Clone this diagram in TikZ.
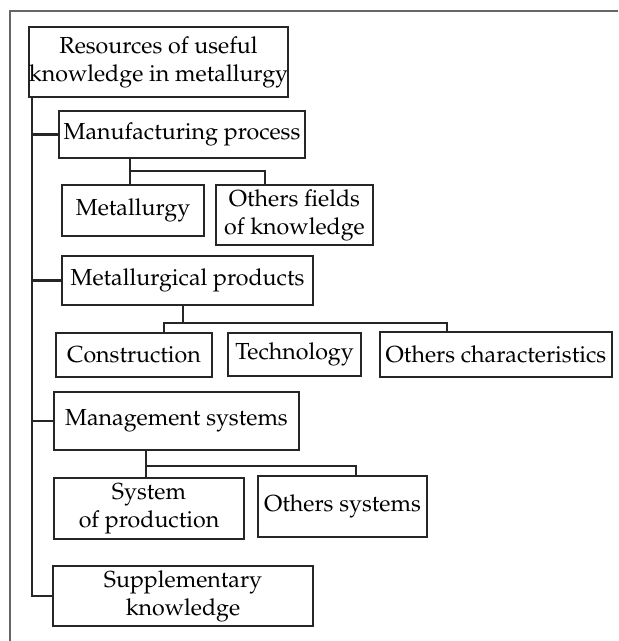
\documentclass[tikz,border=0pt]{standalone}
\usepackage[T1]{fontenc}
\usepackage{mathpazo}
\tikzset{
  kbox/.style={draw=black!85, line width=0.95pt, inner sep=0pt, align=center,
    font=\fontsize{11.6}{14}\selectfont},
  link/.style={draw=black!85, line width=1.1pt}
}
\begin{document}
\begin{tikzpicture}[x=0.5pt,y=-0.5pt]
    \useasboundingbox (0,0) rectangle (618,641);
    % frame
    \draw[black!60, line width=0.9pt] (618,11) -- (10,11) -- (10,641);
    % boxes: name/x/y/width/height/text
    \foreach \n/\x/\y/\w/\h/\t in {
        root/158.5/62/257/70/{Resources of useful\\knowledge in metallurgy},
        manuf/182/134.5/246/47/{Manufacturing process},
        metal/133/210.5/142/51/{Metallurgy},
        ofields/294.5/215/157/60/{Others fields\\of knowledge},
        products/187.5/280.5/251/49/{Metallurgical products},
        constr/134/355/156/44/{Construction},
        techn/294.5/354.5/133/43/{Technology},
        ochar/496/354.5/232/45/{Others characteristics},
        manag/176.5/421/245/58/{Management systems},
        sysprod/149/508.5/190/61/{System\\of production},
        osys/342.5/506.5/169/61/{Others systems},
        suppl/183/596/260/60/{Supplementary\\knowledge}} {
        \node[kbox, minimum width=\w*0.5pt, minimum height=\h*0.5pt] (\n) at (\x,\y) {\t};
    }
    % trunk
    \coordinate (tx) at (32,0);
    \draw[link] (root.south -| tx) -- (tx |- suppl.west) -- (suppl.west);
    \foreach \n in {manuf, products, manag}
        \draw[link] (tx |- \n.west) -- (\n.west);
    % manufacturing process
    \coordinate (mfL) at (130,171);
    \coordinate (mfR) at (265,171);
    \draw[link] (manuf.south -| mfL) -- (metal.north -| mfL);
    \draw[link] (mfL) -- (mfR) -- (ofields.north -| mfR);
    % metallurgical products
    \coordinate (prM) at (183,323);
    \coordinate (prL) at (164,323);
    \coordinate (prR) at (447,323);
    \draw[link] (products.south -| prM) -- (prM);
    \draw[link] (constr.north -| prL) -- (prL) -- (prR) -- (ochar.north -| prR);
    % management systems
    \coordinate (mgL) at (146,466);
    \coordinate (mgR) at (356,466);
    \draw[link] (manag.south -| mgL) -- (sysprod.north -| mgL);
    \draw[link] (mgL) -- (mgR) -- (osys.north -| mgR);
\end{tikzpicture}
\end{document}
